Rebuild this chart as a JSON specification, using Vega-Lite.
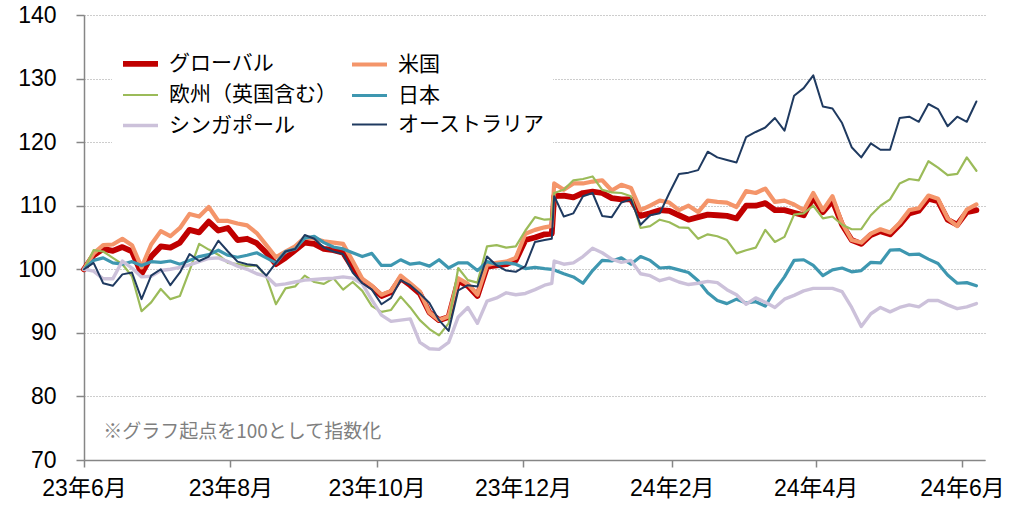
{
"$schema": "https://vega.github.io/schema/vega-lite/v6.json",
"width": 901, "height": 445,
"autosize": {"type": "none"},
"padding": {"left": 84, "top": 15, "right": 28, "bottom": 46},
"background": "white",
"config": {"view": {"stroke": null}, "font": "Liberation Sans, Noto Sans CJK JP"},
"layer": [
{
"data": {"values": [
{"d":"2023-06-01","s":"グローバル","v":100},{"d":"2023-06-05","s":"グローバル","v":102.2},{"d":"2023-06-09","s":"グローバル","v":103.2},{"d":"2023-06-13","s":"グローバル","v":102.9},{"d":"2023-06-17","s":"グローバル","v":103.5},{"d":"2023-06-21","s":"グローバル","v":102.8},{"d":"2023-06-25","s":"グローバル","v":99.3},{"d":"2023-06-29","s":"グローバル","v":102.0},
{"d":"2023-07-03","s":"グローバル","v":103.6},{"d":"2023-07-07","s":"グローバル","v":103.4},{"d":"2023-07-11","s":"グローバル","v":104.2},{"d":"2023-07-15","s":"グローバル","v":106.2},{"d":"2023-07-19","s":"グローバル","v":105.8},{"d":"2023-07-23","s":"グローバル","v":107.5},{"d":"2023-07-27","s":"グローバル","v":106.1},{"d":"2023-07-31","s":"グローバル","v":106.5},
{"d":"2023-08-04","s":"グローバル","v":104.6},{"d":"2023-08-08","s":"グローバル","v":104.8},{"d":"2023-08-12","s":"グローバル","v":104.1},{"d":"2023-08-16","s":"グローバル","v":102.6},{"d":"2023-08-20","s":"グローバル","v":100.8},{"d":"2023-08-24","s":"グローバル","v":101.8},{"d":"2023-08-28","s":"グローバル","v":103.0},
{"d":"2023-09-01","s":"グローバル","v":104.2},{"d":"2023-09-05","s":"グローバル","v":104.0},{"d":"2023-09-09","s":"グローバル","v":103.2},{"d":"2023-09-13","s":"グローバル","v":103.0},{"d":"2023-09-17","s":"グローバル","v":102.6},{"d":"2023-09-21","s":"グローバル","v":100.2},{"d":"2023-09-25","s":"グローバル","v":98.2},{"d":"2023-09-29","s":"グローバル","v":97.2},
{"d":"2023-10-03","s":"グローバル","v":95.8},{"d":"2023-10-07","s":"グローバル","v":96.4},{"d":"2023-10-11","s":"グローバル","v":98.6},{"d":"2023-10-15","s":"グローバル","v":97.5},{"d":"2023-10-19","s":"グローバル","v":96.2},{"d":"2023-10-23","s":"グローバル","v":93.2},{"d":"2023-10-27","s":"グローバル","v":92.0},{"d":"2023-10-31","s":"グローバル","v":92.5},
{"d":"2023-11-04","s":"グローバル","v":98.2},{"d":"2023-11-08","s":"グローバル","v":97.4},{"d":"2023-11-12","s":"グローバル","v":95.8},{"d":"2023-11-16","s":"グローバル","v":100.4},{"d":"2023-11-20","s":"グローバル","v":100.6},{"d":"2023-11-24","s":"グローバル","v":100.8},{"d":"2023-11-28","s":"グローバル","v":101.4},
{"d":"2023-12-02","s":"グローバル","v":104.6},{"d":"2023-12-06","s":"グローバル","v":105.0},{"d":"2023-12-10","s":"グローバル","v":105.5},{"d":"2023-12-13","s":"グローバル","v":105.6},{"d":"2023-12-14","s":"グローバル","v":111.5},{"d":"2023-12-18","s":"グローバル","v":111.6},{"d":"2023-12-22","s":"グローバル","v":111.3},{"d":"2023-12-26","s":"グローバル","v":112.0},{"d":"2023-12-30","s":"グローバル","v":112.2},
{"d":"2024-01-03","s":"グローバル","v":112.0},{"d":"2024-01-07","s":"グローバル","v":111.2},{"d":"2024-01-11","s":"グローバル","v":111.0},{"d":"2024-01-15","s":"グローバル","v":111.0},{"d":"2024-01-19","s":"グローバル","v":108.4},{"d":"2024-01-23","s":"グローバル","v":108.8},{"d":"2024-01-27","s":"グローバル","v":109.3},{"d":"2024-01-31","s":"グローバル","v":109.2},
{"d":"2024-02-04","s":"グローバル","v":108.5},{"d":"2024-02-08","s":"グローバル","v":107.8},{"d":"2024-02-12","s":"グローバル","v":108.2},{"d":"2024-02-16","s":"グローバル","v":108.6},{"d":"2024-02-20","s":"グローバル","v":108.5},{"d":"2024-02-24","s":"グローバル","v":108.4},{"d":"2024-02-28","s":"グローバル","v":108.0},
{"d":"2024-03-03","s":"グローバル","v":110.0},{"d":"2024-03-07","s":"グローバル","v":110.0},{"d":"2024-03-11","s":"グローバル","v":110.4},{"d":"2024-03-15","s":"グローバル","v":109.3},{"d":"2024-03-19","s":"グローバル","v":109.3},{"d":"2024-03-23","s":"グローバル","v":108.9},{"d":"2024-03-27","s":"グローバル","v":108.5},{"d":"2024-03-31","s":"グローバル","v":111.3},
{"d":"2024-04-04","s":"グローバル","v":109.0},{"d":"2024-04-08","s":"グローバル","v":110.8},{"d":"2024-04-12","s":"グローバル","v":107.0},{"d":"2024-04-16","s":"グローバル","v":104.6},{"d":"2024-04-20","s":"グローバル","v":104.0},{"d":"2024-04-24","s":"グローバル","v":105.4},{"d":"2024-04-28","s":"グローバル","v":106.0},
{"d":"2024-05-02","s":"グローバル","v":105.5},{"d":"2024-05-06","s":"グローバル","v":107.0},{"d":"2024-05-10","s":"グローバル","v":108.8},{"d":"2024-05-14","s":"グローバル","v":109.2},{"d":"2024-05-18","s":"グローバル","v":111.1},{"d":"2024-05-22","s":"グローバル","v":110.7},{"d":"2024-05-26","s":"グローバル","v":107.8},{"d":"2024-05-30","s":"グローバル","v":107.0},
{"d":"2024-06-03","s":"グローバル","v":109.0},{"d":"2024-06-07","s":"グローバル","v":109.3},

{"d":"2023-06-01","s":"米国","v":100},{"d":"2023-06-05","s":"米国","v":102.5},{"d":"2023-06-09","s":"米国","v":103.8},{"d":"2023-06-13","s":"米国","v":103.9},{"d":"2023-06-17","s":"米国","v":104.8},{"d":"2023-06-21","s":"米国","v":103.8},{"d":"2023-06-25","s":"米国","v":100.3},{"d":"2023-06-29","s":"米国","v":103.9},
{"d":"2023-07-03","s":"米国","v":106.0},{"d":"2023-07-07","s":"米国","v":105.2},{"d":"2023-07-11","s":"米国","v":106.5},{"d":"2023-07-15","s":"米国","v":108.7},{"d":"2023-07-19","s":"米国","v":108.3},{"d":"2023-07-23","s":"米国","v":109.8},{"d":"2023-07-27","s":"米国","v":107.6},{"d":"2023-07-31","s":"米国","v":107.6},
{"d":"2023-08-04","s":"米国","v":107.2},{"d":"2023-08-08","s":"米国","v":106.9},{"d":"2023-08-12","s":"米国","v":105.7},{"d":"2023-08-16","s":"米国","v":103.8},{"d":"2023-08-20","s":"米国","v":101.9},{"d":"2023-08-24","s":"米国","v":102.8},{"d":"2023-08-28","s":"米国","v":103.6},
{"d":"2023-09-01","s":"米国","v":105.0},{"d":"2023-09-05","s":"米国","v":104.8},{"d":"2023-09-09","s":"米国","v":104.4},{"d":"2023-09-13","s":"米国","v":104.2},{"d":"2023-09-17","s":"米国","v":104.0},{"d":"2023-09-21","s":"米国","v":101.3},{"d":"2023-09-25","s":"米国","v":98.5},{"d":"2023-09-29","s":"米国","v":97.4},
{"d":"2023-10-03","s":"米国","v":96.0},{"d":"2023-10-07","s":"米国","v":96.6},{"d":"2023-10-11","s":"米国","v":99.0},{"d":"2023-10-15","s":"米国","v":97.8},{"d":"2023-10-19","s":"米国","v":96.5},{"d":"2023-10-23","s":"米国","v":93.2},{"d":"2023-10-27","s":"米国","v":92.0},{"d":"2023-10-31","s":"米国","v":92.6},
{"d":"2023-11-04","s":"米国","v":98.6},{"d":"2023-11-08","s":"米国","v":97.7},{"d":"2023-11-12","s":"米国","v":96.0},{"d":"2023-11-16","s":"米国","v":100.7},{"d":"2023-11-20","s":"米国","v":101.0},{"d":"2023-11-24","s":"米国","v":101.2},{"d":"2023-11-28","s":"米国","v":101.8},
{"d":"2023-12-02","s":"米国","v":105.6},{"d":"2023-12-06","s":"米国","v":106.2},{"d":"2023-12-10","s":"米国","v":106.6},{"d":"2023-12-13","s":"米国","v":106.8},{"d":"2023-12-14","s":"米国","v":113.5},{"d":"2023-12-18","s":"米国","v":112.5},{"d":"2023-12-22","s":"米国","v":113.5},{"d":"2023-12-26","s":"米国","v":113.5},{"d":"2023-12-30","s":"米国","v":113.8},
{"d":"2024-01-03","s":"米国","v":114.0},{"d":"2024-01-07","s":"米国","v":112.4},{"d":"2024-01-11","s":"米国","v":113.3},{"d":"2024-01-15","s":"米国","v":112.8},{"d":"2024-01-19","s":"米国","v":109.3},{"d":"2024-01-23","s":"米国","v":110.0},{"d":"2024-01-27","s":"米国","v":110.8},{"d":"2024-01-31","s":"米国","v":110.5},
{"d":"2024-02-04","s":"米国","v":109.3},{"d":"2024-02-08","s":"米国","v":110.0},{"d":"2024-02-12","s":"米国","v":109.0},{"d":"2024-02-16","s":"米国","v":110.8},{"d":"2024-02-20","s":"米国","v":110.6},{"d":"2024-02-24","s":"米国","v":110.5},{"d":"2024-02-28","s":"米国","v":109.8},
{"d":"2024-03-03","s":"米国","v":112.3},{"d":"2024-03-07","s":"米国","v":112.0},{"d":"2024-03-11","s":"米国","v":112.7},{"d":"2024-03-15","s":"米国","v":110.6},{"d":"2024-03-19","s":"米国","v":110.8},{"d":"2024-03-23","s":"米国","v":110.2},{"d":"2024-03-27","s":"米国","v":109.3},{"d":"2024-03-31","s":"米国","v":112.0},
{"d":"2024-04-04","s":"米国","v":109.3},{"d":"2024-04-08","s":"米国","v":111.5},{"d":"2024-04-12","s":"米国","v":107.3},{"d":"2024-04-16","s":"米国","v":104.6},{"d":"2024-04-20","s":"米国","v":104.2},{"d":"2024-04-24","s":"米国","v":105.6},{"d":"2024-04-28","s":"米国","v":106.3},
{"d":"2024-05-02","s":"米国","v":105.8},{"d":"2024-05-06","s":"米国","v":107.3},{"d":"2024-05-10","s":"米国","v":109.3},{"d":"2024-05-14","s":"米国","v":109.6},{"d":"2024-05-18","s":"米国","v":111.6},{"d":"2024-05-22","s":"米国","v":111.1},{"d":"2024-05-26","s":"米国","v":108.0},{"d":"2024-05-30","s":"米国","v":106.8},
{"d":"2024-06-03","s":"米国","v":109.4},{"d":"2024-06-07","s":"米国","v":110.2},

{"d":"2023-06-01","s":"欧州（英国含む）","v":100},{"d":"2023-06-05","s":"欧州（英国含む）","v":103.0},{"d":"2023-06-09","s":"欧州（英国含む）","v":102.8},{"d":"2023-06-13","s":"欧州（英国含む）","v":101.8},{"d":"2023-06-17","s":"欧州（英国含む）","v":100.8},{"d":"2023-06-21","s":"欧州（英国含む）","v":98.9},{"d":"2023-06-25","s":"欧州（英国含む）","v":93.4},{"d":"2023-06-29","s":"欧州（英国含む）","v":94.8},
{"d":"2023-07-03","s":"欧州（英国含む）","v":96.9},{"d":"2023-07-07","s":"欧州（英国含む）","v":95.3},{"d":"2023-07-11","s":"欧州（英国含む）","v":95.8},{"d":"2023-07-15","s":"欧州（英国含む）","v":99.8},{"d":"2023-07-19","s":"欧州（英国含む）","v":104.0},{"d":"2023-07-23","s":"欧州（英国含む）","v":103.1},{"d":"2023-07-27","s":"欧州（英国含む）","v":102.3},{"d":"2023-07-31","s":"欧州（英国含む）","v":101.0},
{"d":"2023-08-04","s":"欧州（英国含む）","v":100.8},{"d":"2023-08-08","s":"欧州（英国含む）","v":100.5},{"d":"2023-08-12","s":"欧州（英国含む）","v":100.6},{"d":"2023-08-16","s":"欧州（英国含む）","v":98.8},{"d":"2023-08-20","s":"欧州（英国含む）","v":94.5},{"d":"2023-08-24","s":"欧州（英国含む）","v":97.0},{"d":"2023-08-28","s":"欧州（英国含む）","v":97.3},
{"d":"2023-09-01","s":"欧州（英国含む）","v":99.0},{"d":"2023-09-05","s":"欧州（英国含む）","v":98.0},{"d":"2023-09-09","s":"欧州（英国含む）","v":97.7},{"d":"2023-09-13","s":"欧州（英国含む）","v":98.6},{"d":"2023-09-17","s":"欧州（英国含む）","v":96.8},{"d":"2023-09-21","s":"欧州（英国含む）","v":98.0},{"d":"2023-09-25","s":"欧州（英国含む）","v":96.6},{"d":"2023-09-29","s":"欧州（英国含む）","v":94.2},
{"d":"2023-10-03","s":"欧州（英国含む）","v":93.3},{"d":"2023-10-07","s":"欧州（英国含む）","v":93.6},{"d":"2023-10-11","s":"欧州（英国含む）","v":95.7},{"d":"2023-10-15","s":"欧州（英国含む）","v":94.0},{"d":"2023-10-19","s":"欧州（英国含む）","v":92.0},{"d":"2023-10-23","s":"欧州（英国含む）","v":90.6},{"d":"2023-10-27","s":"欧州（英国含む）","v":89.6},{"d":"2023-10-31","s":"欧州（英国含む）","v":91.5},
{"d":"2023-11-04","s":"欧州（英国含む）","v":100.2},{"d":"2023-11-08","s":"欧州（英国含む）","v":98.3},{"d":"2023-11-12","s":"欧州（英国含む）","v":97.9},{"d":"2023-11-16","s":"欧州（英国含む）","v":103.6},{"d":"2023-11-20","s":"欧州（英国含む）","v":103.8},{"d":"2023-11-24","s":"欧州（英国含む）","v":103.4},{"d":"2023-11-28","s":"欧州（英国含む）","v":103.6},
{"d":"2023-12-02","s":"欧州（英国含む）","v":106.1},{"d":"2023-12-06","s":"欧州（英国含む）","v":108.2},{"d":"2023-12-10","s":"欧州（英国含む）","v":107.8},{"d":"2023-12-13","s":"欧州（英国含む）","v":107.9},{"d":"2023-12-14","s":"欧州（英国含む）","v":112.0},{"d":"2023-12-18","s":"欧州（英国含む）","v":112.5},{"d":"2023-12-22","s":"欧州（英国含む）","v":114.0},{"d":"2023-12-26","s":"欧州（英国含む）","v":114.2},{"d":"2023-12-30","s":"欧州（英国含む）","v":114.6},
{"d":"2024-01-03","s":"欧州（英国含む）","v":112.5},{"d":"2024-01-07","s":"欧州（英国含む）","v":112.1},{"d":"2024-01-11","s":"欧州（英国含む）","v":112.0},{"d":"2024-01-15","s":"欧州（英国含む）","v":111.5},{"d":"2024-01-19","s":"欧州（英国含む）","v":106.5},{"d":"2024-01-23","s":"欧州（英国含む）","v":106.8},{"d":"2024-01-27","s":"欧州（英国含む）","v":107.8},{"d":"2024-01-31","s":"欧州（英国含む）","v":107.4},
{"d":"2024-02-04","s":"欧州（英国含む）","v":106.6},{"d":"2024-02-08","s":"欧州（英国含む）","v":106.5},{"d":"2024-02-12","s":"欧州（英国含む）","v":104.8},{"d":"2024-02-16","s":"欧州（英国含む）","v":105.5},{"d":"2024-02-20","s":"欧州（英国含む）","v":105.2},{"d":"2024-02-24","s":"欧州（英国含む）","v":104.6},{"d":"2024-02-28","s":"欧州（英国含む）","v":102.5},
{"d":"2024-03-03","s":"欧州（英国含む）","v":103.0},{"d":"2024-03-07","s":"欧州（英国含む）","v":103.4},{"d":"2024-03-11","s":"欧州（英国含む）","v":106.2},{"d":"2024-03-15","s":"欧州（英国含む）","v":104.3},{"d":"2024-03-19","s":"欧州（英国含む）","v":105.1},{"d":"2024-03-23","s":"欧州（英国含む）","v":108.6},{"d":"2024-03-27","s":"欧州（英国含む）","v":108.8},{"d":"2024-03-31","s":"欧州（英国含む）","v":110.0},
{"d":"2024-04-04","s":"欧州（英国含む）","v":108.0},{"d":"2024-04-08","s":"欧州（英国含む）","v":108.3},{"d":"2024-04-12","s":"欧州（英国含む）","v":107.0},{"d":"2024-04-16","s":"欧州（英国含む）","v":106.3},{"d":"2024-04-20","s":"欧州（英国含む）","v":106.3},{"d":"2024-04-24","s":"欧州（英国含む）","v":108.5},{"d":"2024-04-28","s":"欧州（英国含む）","v":110.0},
{"d":"2024-05-02","s":"欧州（英国含む）","v":111.0},{"d":"2024-05-06","s":"欧州（英国含む）","v":113.5},{"d":"2024-05-10","s":"欧州（英国含む）","v":114.2},{"d":"2024-05-14","s":"欧州（英国含む）","v":114.0},{"d":"2024-05-18","s":"欧州（英国含む）","v":117.0},{"d":"2024-05-22","s":"欧州（英国含む）","v":116.0},{"d":"2024-05-26","s":"欧州（英国含む）","v":114.8},{"d":"2024-05-30","s":"欧州（英国含む）","v":115.0},
{"d":"2024-06-03","s":"欧州（英国含む）","v":117.6},{"d":"2024-06-07","s":"欧州（英国含む）","v":115.5},

{"d":"2023-06-01","s":"日本","v":100},{"d":"2023-06-05","s":"日本","v":101.4},{"d":"2023-06-09","s":"日本","v":101.8},{"d":"2023-06-13","s":"日本","v":101.0},{"d":"2023-06-17","s":"日本","v":100.8},{"d":"2023-06-21","s":"日本","v":101.2},{"d":"2023-06-25","s":"日本","v":100.6},{"d":"2023-06-29","s":"日本","v":101.2},
{"d":"2023-07-03","s":"日本","v":101.1},{"d":"2023-07-07","s":"日本","v":101.3},{"d":"2023-07-11","s":"日本","v":100.8},{"d":"2023-07-15","s":"日本","v":101.4},{"d":"2023-07-19","s":"日本","v":102.0},{"d":"2023-07-23","s":"日本","v":102.3},{"d":"2023-07-27","s":"日本","v":103.0},{"d":"2023-07-31","s":"日本","v":102.2},
{"d":"2023-08-04","s":"日本","v":101.9},{"d":"2023-08-08","s":"日本","v":102.2},{"d":"2023-08-12","s":"日本","v":102.6},{"d":"2023-08-16","s":"日本","v":101.8},{"d":"2023-08-20","s":"日本","v":101.0},{"d":"2023-08-24","s":"日本","v":102.8},{"d":"2023-08-28","s":"日本","v":103.2},
{"d":"2023-09-01","s":"日本","v":104.9},{"d":"2023-09-05","s":"日本","v":105.2},{"d":"2023-09-09","s":"日本","v":104.2},{"d":"2023-09-13","s":"日本","v":103.5},{"d":"2023-09-17","s":"日本","v":103.2},{"d":"2023-09-21","s":"日本","v":102.6},{"d":"2023-09-25","s":"日本","v":102.0},{"d":"2023-09-29","s":"日本","v":102.5},
{"d":"2023-10-03","s":"日本","v":100.6},{"d":"2023-10-07","s":"日本","v":100.6},{"d":"2023-10-11","s":"日本","v":101.5},{"d":"2023-10-15","s":"日本","v":100.8},{"d":"2023-10-19","s":"日本","v":101.0},{"d":"2023-10-23","s":"日本","v":100.5},{"d":"2023-10-27","s":"日本","v":101.5},{"d":"2023-10-31","s":"日本","v":100.2},
{"d":"2023-11-04","s":"日本","v":101.0},{"d":"2023-11-08","s":"日本","v":101.0},{"d":"2023-11-12","s":"日本","v":99.8},{"d":"2023-11-16","s":"日本","v":101.2},{"d":"2023-11-20","s":"日本","v":100.8},{"d":"2023-11-24","s":"日本","v":101.0},{"d":"2023-11-28","s":"日本","v":100.8},
{"d":"2023-12-02","s":"日本","v":100.1},{"d":"2023-12-06","s":"日本","v":100.3},{"d":"2023-12-10","s":"日本","v":100.1},{"d":"2023-12-13","s":"日本","v":100.0},{"d":"2023-12-14","s":"日本","v":99.9},{"d":"2023-12-18","s":"日本","v":99.3},{"d":"2023-12-22","s":"日本","v":98.8},{"d":"2023-12-26","s":"日本","v":97.8},{"d":"2023-12-30","s":"日本","v":99.8},
{"d":"2024-01-03","s":"日本","v":101.4},{"d":"2024-01-07","s":"日本","v":101.3},{"d":"2024-01-11","s":"日本","v":101.8},{"d":"2024-01-15","s":"日本","v":100.8},{"d":"2024-01-19","s":"日本","v":102.0},{"d":"2024-01-23","s":"日本","v":101.4},{"d":"2024-01-27","s":"日本","v":100.2},{"d":"2024-01-31","s":"日本","v":100.3},
{"d":"2024-02-04","s":"日本","v":99.9},{"d":"2024-02-08","s":"日本","v":99.5},{"d":"2024-02-12","s":"日本","v":98.2},{"d":"2024-02-16","s":"日本","v":96.3},{"d":"2024-02-20","s":"日本","v":95.1},{"d":"2024-02-24","s":"日本","v":94.6},{"d":"2024-02-28","s":"日本","v":95.3},
{"d":"2024-03-03","s":"日本","v":94.7},{"d":"2024-03-07","s":"日本","v":94.9},{"d":"2024-03-11","s":"日本","v":94.2},{"d":"2024-03-15","s":"日本","v":96.7},{"d":"2024-03-19","s":"日本","v":98.8},{"d":"2024-03-23","s":"日本","v":101.4},{"d":"2024-03-27","s":"日本","v":101.5},{"d":"2024-03-31","s":"日本","v":100.6},
{"d":"2024-04-04","s":"日本","v":99.0},{"d":"2024-04-08","s":"日本","v":99.9},{"d":"2024-04-12","s":"日本","v":100.2},{"d":"2024-04-16","s":"日本","v":99.6},{"d":"2024-04-20","s":"日本","v":99.8},{"d":"2024-04-24","s":"日本","v":101.1},{"d":"2024-04-28","s":"日本","v":101.0},
{"d":"2024-05-02","s":"日本","v":103.0},{"d":"2024-05-06","s":"日本","v":103.1},{"d":"2024-05-10","s":"日本","v":102.3},{"d":"2024-05-14","s":"日本","v":102.4},{"d":"2024-05-18","s":"日本","v":101.6},{"d":"2024-05-22","s":"日本","v":100.9},{"d":"2024-05-26","s":"日本","v":99.1},{"d":"2024-05-30","s":"日本","v":97.8},
{"d":"2024-06-03","s":"日本","v":97.9},{"d":"2024-06-07","s":"日本","v":97.4},

{"d":"2023-06-01","s":"シンガポール","v":100},{"d":"2023-06-05","s":"シンガポール","v":99.7},{"d":"2023-06-09","s":"シンガポール","v":98.5},{"d":"2023-06-13","s":"シンガポール","v":98.5},{"d":"2023-06-17","s":"シンガポール","v":101.3},{"d":"2023-06-21","s":"シンガポール","v":100.2},{"d":"2023-06-25","s":"シンガポール","v":98.8},{"d":"2023-06-29","s":"シンガポール","v":98.9},
{"d":"2023-07-03","s":"シンガポール","v":99.8},{"d":"2023-07-07","s":"シンガポール","v":100.0},{"d":"2023-07-11","s":"シンガポール","v":100.3},{"d":"2023-07-15","s":"シンガポール","v":100.7},{"d":"2023-07-19","s":"シンガポール","v":101.2},{"d":"2023-07-23","s":"シンガポール","v":101.7},{"d":"2023-07-27","s":"シンガポール","v":101.8},{"d":"2023-07-31","s":"シンガポール","v":101.2},
{"d":"2023-08-04","s":"シンガポール","v":100.5},{"d":"2023-08-08","s":"シンガポール","v":100.0},{"d":"2023-08-12","s":"シンガポール","v":99.3},{"d":"2023-08-16","s":"シンガポール","v":98.9},{"d":"2023-08-20","s":"シンガポール","v":97.5},{"d":"2023-08-24","s":"シンガポール","v":97.7},{"d":"2023-08-28","s":"シンガポール","v":98.0},
{"d":"2023-09-01","s":"シンガポール","v":98.3},{"d":"2023-09-05","s":"シンガポール","v":98.4},{"d":"2023-09-09","s":"シンガポール","v":98.5},{"d":"2023-09-13","s":"シンガポール","v":98.6},{"d":"2023-09-17","s":"シンガポール","v":98.8},{"d":"2023-09-21","s":"シンガポール","v":98.6},{"d":"2023-09-25","s":"シンガポール","v":97.7},{"d":"2023-09-29","s":"シンガポール","v":95.2},
{"d":"2023-10-03","s":"シンガポール","v":92.8},{"d":"2023-10-07","s":"シンガポール","v":91.8},{"d":"2023-10-11","s":"シンガポール","v":92.0},{"d":"2023-10-15","s":"シンガポール","v":92.2},{"d":"2023-10-19","s":"シンガポール","v":88.5},{"d":"2023-10-23","s":"シンガポール","v":87.5},{"d":"2023-10-27","s":"シンガポール","v":87.4},{"d":"2023-10-31","s":"シンガポール","v":88.5},
{"d":"2023-11-04","s":"シンガポール","v":92.5},{"d":"2023-11-08","s":"シンガポール","v":94.0},{"d":"2023-11-12","s":"シンガポール","v":91.5},{"d":"2023-11-16","s":"シンガポール","v":95.0},{"d":"2023-11-20","s":"シンガポール","v":95.5},{"d":"2023-11-24","s":"シンガポール","v":96.3},{"d":"2023-11-28","s":"シンガポール","v":96.0},
{"d":"2023-12-02","s":"シンガポール","v":96.2},{"d":"2023-12-06","s":"シンガポール","v":96.8},{"d":"2023-12-10","s":"シンガポール","v":97.5},{"d":"2023-12-13","s":"シンガポール","v":97.8},{"d":"2023-12-14","s":"シンガポール","v":101.3},{"d":"2023-12-18","s":"シンガポール","v":100.8},{"d":"2023-12-22","s":"シンガポール","v":101.0},{"d":"2023-12-26","s":"シンガポール","v":102.0},{"d":"2023-12-30","s":"シンガポール","v":103.3},
{"d":"2024-01-03","s":"シンガポール","v":102.6},{"d":"2024-01-07","s":"シンガポール","v":101.6},{"d":"2024-01-11","s":"シンガポール","v":101.1},{"d":"2024-01-15","s":"シンガポール","v":101.4},{"d":"2024-01-19","s":"シンガポール","v":99.3},{"d":"2024-01-23","s":"シンガポール","v":99.0},{"d":"2024-01-27","s":"シンガポール","v":98.2},{"d":"2024-01-31","s":"シンガポール","v":98.6},
{"d":"2024-02-04","s":"シンガポール","v":98.0},{"d":"2024-02-08","s":"シンガポール","v":97.6},{"d":"2024-02-12","s":"シンガポール","v":97.8},{"d":"2024-02-16","s":"シンガポール","v":98.1},{"d":"2024-02-20","s":"シンガポール","v":97.9},{"d":"2024-02-24","s":"シンガポール","v":96.8},{"d":"2024-02-28","s":"シンガポール","v":96.0},
{"d":"2024-03-03","s":"シンガポール","v":94.5},{"d":"2024-03-07","s":"シンガポール","v":95.5},{"d":"2024-03-11","s":"シンガポール","v":94.8},{"d":"2024-03-15","s":"シンガポール","v":94.0},{"d":"2024-03-19","s":"シンガポール","v":95.3},{"d":"2024-03-23","s":"シンガポール","v":95.9},{"d":"2024-03-27","s":"シンガポール","v":96.6},{"d":"2024-03-31","s":"シンガポール","v":97.0},
{"d":"2024-04-04","s":"シンガポール","v":97.0},{"d":"2024-04-08","s":"シンガポール","v":97.0},{"d":"2024-04-12","s":"シンガポール","v":96.5},{"d":"2024-04-16","s":"シンガポール","v":94.0},{"d":"2024-04-20","s":"シンガポール","v":91.0},{"d":"2024-04-24","s":"シンガポール","v":93.0},{"d":"2024-04-28","s":"シンガポール","v":94.0},
{"d":"2024-05-02","s":"シンガポール","v":93.3},{"d":"2024-05-06","s":"シンガポール","v":94.0},{"d":"2024-05-10","s":"シンガポール","v":94.4},{"d":"2024-05-14","s":"シンガポール","v":94.1},{"d":"2024-05-18","s":"シンガポール","v":95.1},{"d":"2024-05-22","s":"シンガポール","v":95.1},{"d":"2024-05-26","s":"シンガポール","v":94.4},{"d":"2024-05-30","s":"シンガポール","v":93.8},
{"d":"2024-06-03","s":"シンガポール","v":94.1},{"d":"2024-06-07","s":"シンガポール","v":94.6},

{"d":"2023-06-01","s":"オーストラリア","v":100},{"d":"2023-06-05","s":"オーストラリア","v":101.0},{"d":"2023-06-09","s":"オーストラリア","v":97.8},{"d":"2023-06-13","s":"オーストラリア","v":97.4},{"d":"2023-06-17","s":"オーストラリア","v":99.2},{"d":"2023-06-21","s":"オーストラリア","v":99.5},{"d":"2023-06-25","s":"オーストラリア","v":95.3},{"d":"2023-06-29","s":"オーストラリア","v":99.0},
{"d":"2023-07-03","s":"オーストラリア","v":100.0},{"d":"2023-07-07","s":"オーストラリア","v":97.5},{"d":"2023-07-11","s":"オーストラリア","v":99.5},{"d":"2023-07-15","s":"オーストラリア","v":102.4},{"d":"2023-07-19","s":"オーストラリア","v":101.3},{"d":"2023-07-23","s":"オーストラリア","v":102.0},{"d":"2023-07-27","s":"オーストラリア","v":104.5},{"d":"2023-07-31","s":"オーストラリア","v":102.8},
{"d":"2023-08-04","s":"オーストラリア","v":101.2},{"d":"2023-08-08","s":"オーストラリア","v":100.8},{"d":"2023-08-12","s":"オーストラリア","v":100.6},{"d":"2023-08-16","s":"オーストラリア","v":99.0},{"d":"2023-08-20","s":"オーストラリア","v":101.0},{"d":"2023-08-24","s":"オーストラリア","v":102.8},{"d":"2023-08-28","s":"オーストラリア","v":103.2},
{"d":"2023-09-01","s":"オーストラリア","v":105.4},{"d":"2023-09-05","s":"オーストラリア","v":104.8},{"d":"2023-09-09","s":"オーストラリア","v":103.4},{"d":"2023-09-13","s":"オーストラリア","v":102.8},{"d":"2023-09-17","s":"オーストラリア","v":102.4},{"d":"2023-09-21","s":"オーストラリア","v":99.5},{"d":"2023-09-25","s":"オーストラリア","v":97.8},{"d":"2023-09-29","s":"オーストラリア","v":96.8},
{"d":"2023-10-03","s":"オーストラリア","v":94.5},{"d":"2023-10-07","s":"オーストラリア","v":95.5},{"d":"2023-10-11","s":"オーストラリア","v":98.3},{"d":"2023-10-15","s":"オーストラリア","v":97.5},{"d":"2023-10-19","s":"オーストラリア","v":96.2},{"d":"2023-10-23","s":"オーストラリア","v":94.7},{"d":"2023-10-27","s":"オーストラリア","v":92.0},{"d":"2023-10-31","s":"オーストラリア","v":90.3},
{"d":"2023-11-04","s":"オーストラリア","v":96.7},{"d":"2023-11-08","s":"オーストラリア","v":97.5},{"d":"2023-11-12","s":"オーストラリア","v":97.3},{"d":"2023-11-16","s":"オーストラリア","v":102.0},{"d":"2023-11-20","s":"オーストラリア","v":100.6},{"d":"2023-11-24","s":"オーストラリア","v":99.8},{"d":"2023-11-28","s":"オーストラリア","v":99.6},
{"d":"2023-12-02","s":"オーストラリア","v":100.5},{"d":"2023-12-06","s":"オーストラリア","v":104.3},{"d":"2023-12-10","s":"オーストラリア","v":104.6},{"d":"2023-12-13","s":"オーストラリア","v":104.8},{"d":"2023-12-14","s":"オーストラリア","v":111.5},{"d":"2023-12-18","s":"オーストラリア","v":108.3},{"d":"2023-12-22","s":"オーストラリア","v":108.8},{"d":"2023-12-26","s":"オーストラリア","v":111.5},{"d":"2023-12-30","s":"オーストラリア","v":112.0},
{"d":"2024-01-03","s":"オーストラリア","v":108.4},{"d":"2024-01-07","s":"オーストラリア","v":108.2},{"d":"2024-01-11","s":"オーストラリア","v":110.5},{"d":"2024-01-15","s":"オーストラリア","v":111.0},{"d":"2024-01-19","s":"オーストラリア","v":107.0},{"d":"2024-01-23","s":"オーストラリア","v":108.5},{"d":"2024-01-27","s":"オーストラリア","v":108.8},{"d":"2024-01-31","s":"オーストラリア","v":112.0},
{"d":"2024-02-04","s":"オーストラリア","v":115.0},{"d":"2024-02-08","s":"オーストラリア","v":115.2},{"d":"2024-02-12","s":"オーストラリア","v":115.6},{"d":"2024-02-16","s":"オーストラリア","v":118.5},{"d":"2024-02-20","s":"オーストラリア","v":117.6},{"d":"2024-02-24","s":"オーストラリア","v":117.2},{"d":"2024-02-28","s":"オーストラリア","v":116.8},
{"d":"2024-03-03","s":"オーストラリア","v":120.8},{"d":"2024-03-07","s":"オーストラリア","v":121.6},{"d":"2024-03-11","s":"オーストラリア","v":122.3},{"d":"2024-03-15","s":"オーストラリア","v":123.8},{"d":"2024-03-19","s":"オーストラリア","v":121.8},{"d":"2024-03-23","s":"オーストラリア","v":127.3},{"d":"2024-03-27","s":"オーストラリア","v":128.5},{"d":"2024-03-31","s":"オーストラリア","v":130.5},
{"d":"2024-04-04","s":"オーストラリア","v":125.6},{"d":"2024-04-08","s":"オーストラリア","v":125.3},{"d":"2024-04-12","s":"オーストラリア","v":123.0},{"d":"2024-04-16","s":"オーストラリア","v":119.2},{"d":"2024-04-20","s":"オーストラリア","v":117.6},{"d":"2024-04-24","s":"オーストラリア","v":119.8},{"d":"2024-04-28","s":"オーストラリア","v":118.8},
{"d":"2024-05-02","s":"オーストラリア","v":118.8},{"d":"2024-05-06","s":"オーストラリア","v":123.8},{"d":"2024-05-10","s":"オーストラリア","v":124.0},{"d":"2024-05-14","s":"オーストラリア","v":123.2},{"d":"2024-05-18","s":"オーストラリア","v":126.0},{"d":"2024-05-22","s":"オーストラリア","v":125.2},{"d":"2024-05-26","s":"オーストラリア","v":122.5},{"d":"2024-05-30","s":"オーストラリア","v":124.0},
{"d":"2024-06-03","s":"オーストラリア","v":123.2},{"d":"2024-06-07","s":"オーストラリア","v":126.4}
]},
"mark": {"type": "line", "strokeJoin": "round", "strokeCap": "round"},
"encoding": {
"x": {"field": "d", "type": "temporal",
"scale": {"type": "utc", "domain": [{"year": 2023, "month": 6, "date": 1, "utc": true}, {"year": 2024, "month": 6, "date": 10, "hours": 14, "utc": true}]},
"axis": {"title": null, "grid": false, "format": "%y年%-m月", "values": [{"year": 2023, "month": 6, "date": 1, "utc": true}, {"year": 2023, "month": 8, "date": 1, "utc": true}, {"year": 2023, "month": 10, "date": 1, "utc": true}, {"year": 2023, "month": 12, "date": 1, "utc": true}, {"year": 2024, "month": 2, "date": 1, "utc": true}, {"year": 2024, "month": 4, "date": 1, "utc": true}, {"year": 2024, "month": 6, "date": 1, "utc": true}],
"labelFontSize": 23, "labelColor": "#000000", "labelPadding": 10, "tickSize": 7, "tickColor": "#868686", "tickWidth": 1.5, "domainColor": "#868686", "domainWidth": 1.5, "labelFlush": false, "labelOverlap": false}},
"y": {"field": "v", "type": "quantitative",
"scale": {"domain": [70, 140], "nice": false, "zero": false},
"axis": {"title": null, "values": [70, 80, 90, 100, 110, 120, 130, 140], "labelFontSize": 23, "labelColor": "#000000", "labelPadding": 20, "tickSize": 8, "tickColor": "#868686", "tickWidth": 1.5, "domainColor": "#868686", "domainWidth": 1.5, "grid": true, "gridColor": "#9a9a9a", "gridDash": [1, 2], "gridWidth": 1}},
"color": {"field": "s", "type": "nominal",
"scale": {"domain": ["グローバル", "欧州（英国含む）", "シンガポール", "米国", "日本", "オーストラリア"], "range": ["#C00000", "#9BBB59", "#CCC1DA", "#F4956A", "#3E97B0", "#1F3A60"]},
"legend": {"title": null, "orient": "none", "legendX": 28, "legendY": 20, "columns": 2, "symbolType": "stroke", "symbolSize": 1225, "labelFontSize": 21, "labelFont": "Noto Sans CJK JP", "labelColor": "#000000", "labelOffset": 8, "columnPadding": 6, "rowPadding": -3, "fillColor": "white", "padding": 8, "labelLimit": 0}},
"strokeWidth": {"field": "s", "type": "nominal",
"scale": {"type": "ordinal", "domain": ["グローバル", "欧州（英国含む）", "シンガポール", "米国", "日本", "オーストラリア"], "range": [5.8, 2.2, 3.4, 4.2, 3.2, 2]}}
}
},
{
"data": {"values": [{"note": "※グラフ起点を100として指数化"}]},
"mark": {"type": "text", "align": "left", "baseline": "middle", "fontSize": 19, "fontWeight": "normal", "color": "#7F7F7F", "font": "Noto Sans CJK JP"},
"encoding": {
"x": {"datum": {"year": 2023, "month": 6, "date": 9, "utc": true}, "type": "temporal"},
"y": {"datum": 74.4, "type": "quantitative"},
"text": {"field": "note", "type": "nominal"}
}
}
]
}
